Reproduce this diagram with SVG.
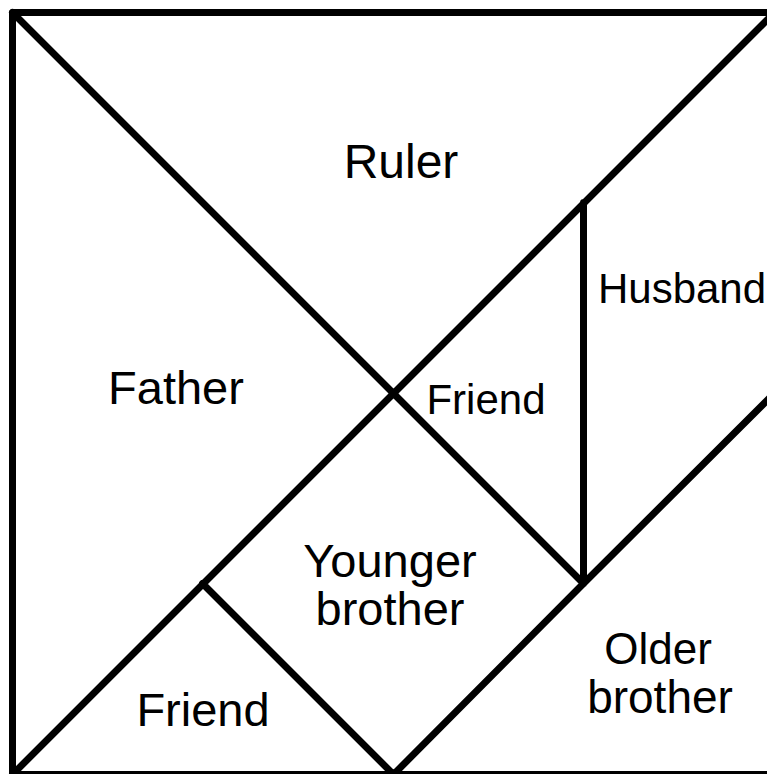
<svg xmlns="http://www.w3.org/2000/svg" width="767" height="774" viewBox="0 0 767 774">
<style>
.e{fill:none;stroke:#000;stroke-width:7;stroke-linejoin:round;stroke-linecap:round}
text{font-family:"Liberation Sans",Arial,sans-serif;font-size:47px;fill:#000;text-anchor:middle}
</style>
<rect width="767" height="774" fill="#fff"/>
<g id="connectors">
<rect class="e" x="12.5" y="12.5" width="762" height="762"/>
<path class="e" d="M12.5 12.5L583.5 583.5M12.5 774.5L774.5 12.5M583.5 202.5V583.5M583.5 583.5L774.5 393M583.5 583.5L393.5 774.5M202.5 583.5L393.5 774.5"/>
</g>
<g id="ruler"><text x="401" y="178" style="font-size:48px">Ruler</text></g>
<g id="husband"><text x="682" y="303" style="font-size:42px">Husband</text></g>
<g id="father"><text x="176" y="404">Father</text></g>
<g id="friend1"><text x="486" y="414" style="font-size:42px">Friend</text></g>
<g id="younger"><text x="390" y="577">Younger</text><text x="390" y="625">brother</text></g>
<g id="friend2"><text x="203" y="726">Friend</text></g>
<g id="older"><text x="658" y="664" style="font-size:44px">Older</text><text x="660" y="713" style="font-size:46px">brother</text></g>
</svg>
